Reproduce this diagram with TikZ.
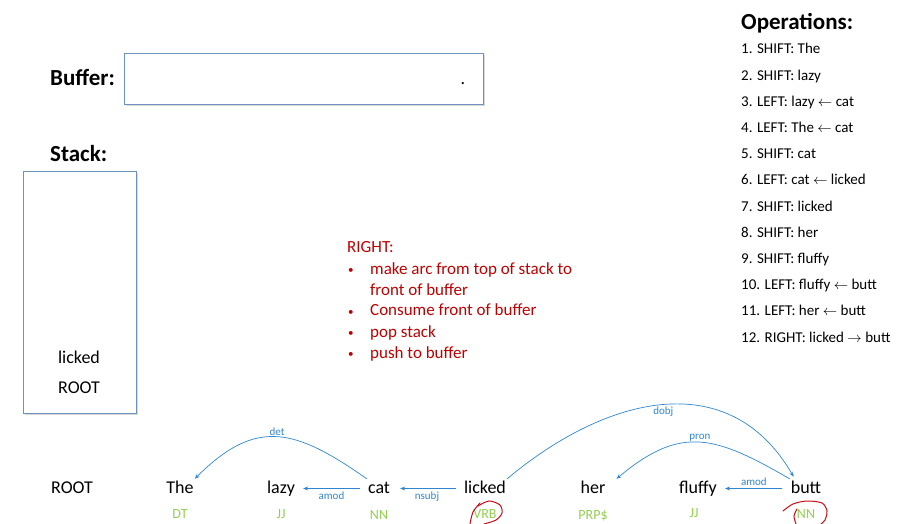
\documentclass[tikz,border=0pt]{standalone}
\usepackage{fontspec}
\setmainfont{Carlito}
\usetikzlibrary{arrows.meta}
\definecolor{arcblue}{RGB}{46,134,210}
\definecolor{taggreen}{RGB}{146,208,80}
\definecolor{opred}{RGB}{192,0,0}
\definecolor{boxline}{RGB}{110,145,190}
\definecolor{inkred}{RGB}{200,10,20}

\tikzset{
  word/.style={anchor=base, inner sep=1pt, text height=13pt, text depth=4pt, font=\fontsize{18}{20}\selectfont},
  tag/.style={anchor=base, inner sep=0pt, text=taggreen, font=\fontsize{14}{16}\selectfont},
  dep/.style={draw=arcblue, line width=0.7pt, -{Stealth[length=5pt,width=4pt]}},
  deplabel/.style={text=arcblue, font=\fontsize{11}{12}\selectfont, inner sep=1pt},
  box/.style={draw=boxline, line width=0.8pt, fill=white},
  heading/.style={anchor=base west, inner sep=0pt, font=\fontsize{23}{26}\selectfont\bfseries},
  opitem/.style={anchor=base west, inner sep=0pt, font=\fontsize{15}{17}\selectfont},
  redtext/.style={anchor=base west, inner sep=0pt, text=opred, font=\fontsize{17}{19}\selectfont},
  redbullet/.style={anchor=base west, inner sep=0pt, text=opred, font=\fontsize{11}{12}\selectfont},
  ink/.style={draw=inkred, line width=1pt, line cap=round}
}

\begin{document}
\begin{tikzpicture}[x=1pt, y=-1pt]
\useasboundingbox (0,0) rectangle (914,524);

% buffer and stack
\node[heading] (bufferlabel) at (50,86) {Buffer:};
\draw[gray!30, line width=1.2pt] (126,105) -- (484,105) -- (484,55);
\node[box, minimum width=359pt, minimum height=51pt] (buffer) at (303.5,78.5) {};
\node[word, inner sep=0pt] (dot) at (463,85) {.};
\node[heading] (stacklabel) at (50,162) {Stack:};
\draw[gray!30, line width=1.2pt] (25,414) -- (137,414) -- (137,173);
\node[box, minimum width=113pt, minimum height=242pt] (stack) at (79.5,292) {};
\node[word] (stack1) at (79,363) {licked};
\node[word] (stack2) at (79,393) {ROOT};

% operations
\node[heading] (ops) at (741,30) {Operations:};
\node[opitem] (op1) at (741,54) {1. SHIFT: The};
\node[opitem] (op2) at (741,80.2) {2. SHIFT: lazy};
\node[opitem] (op3) at (741,106.4) {3. LEFT: lazy $\leftarrow$ cat};
\node[opitem] (op4) at (741,132.6) {4. LEFT: The $\leftarrow$ cat};
\node[opitem] (op5) at (741,158.8) {5. SHIFT: cat};
\node[opitem] (op6) at (741,185) {6. LEFT: cat $\leftarrow$ licked};
\node[opitem] (op7) at (741,211.2) {7. SHIFT: licked};
\node[opitem] (op8) at (741,237.4) {8. SHIFT: her};
\node[opitem] (op9) at (741,263.6) {9. SHIFT: fluffy};
\node[opitem] (op10) at (741,289.8) {10. LEFT: fluffy $\leftarrow$ butt};
\node[opitem] (op11) at (741,316) {11. LEFT: her $\leftarrow$ butt};
\node[opitem] (op12) at (741,342.2) {12. RIGHT: licked $\rightarrow$ butt};

% the RIGHT rule
\node[redtext] (right) at (347,252) {RIGHT:};
\node[redbullet] (bul1) at (348,273) {\textbullet};
\node[redtext] (rule1) at (370,274) {make arc from top of stack to};
\node[redtext] (rule1b) at (370,295) {front of buffer};
\node[redbullet] (bul2) at (348,315) {\textbullet};
\node[redtext] (rule2) at (370,316) {Consume front of buffer};
\node[redbullet] (bul3) at (348,336) {\textbullet};
\node[redtext] (rule3) at (370,337) {pop stack};
\node[redbullet] (bul4) at (348,357) {\textbullet};
\node[redtext] (rule4) at (370,358) {push to buffer};

% sentence
\node[word] (root) at (72,493) {ROOT};
\node[word] (the) at (180,493) {The};
\node[word] (lazy) at (281,493) {lazy};
\node[word] (cat) at (379,493) {cat};
\node[word] (licked) at (485,493) {licked};
\node[word] (her) at (593,493) {her};
\node[word] (fluffy) at (698,493) {fluffy};
\node[word] (butt) at (806,493) {butt};

\node[tag] (tthe) at (180,518) {DT};
\node[tag] (tlazy) at (281,518) {JJ};
\node[tag] (tcat) at (379,519) {NN};
\node[tag] (tlicked) at (485,518) {VRB};
\node[tag] (ther) at (593,519) {PRP\$};
\node[tag] (tfluffy) at (694,517) {JJ};
\node[tag] (tbutt) at (806,518) {NN};

% arcs
\path (cat.north west) edge[dep, out=145, in=45, looseness=1.3] node[deplabel, above] {det} (the.north east);
\path (cat) edge[dep, shorten <=7pt, shorten >=7pt] node[deplabel, below=2pt] {amod} (lazy);
\path (licked) edge[dep, shorten <=7pt, shorten >=9pt] node[deplabel, below=2pt] {nsubj} (cat);
\path (licked.north east) edge[dep, out=40, in=120, looseness=1.15] node[deplabel, below=1pt] {dobj} ([xshift=4pt,yshift=2pt]butt.north west);
\path (butt.north west) edge[dep, out=150, in=40, looseness=1.26] node[deplabel, above] {pron} ([xshift=10pt]her.north east);
\path (butt) edge[dep, shorten <=8pt, shorten >=7pt] node[deplabel, above=2pt] {amod} (fluffy);

% red pen marks
\draw[ink] plot[smooth] coordinates {(478,506) (489,501) (500,505) (502,513) (496,520) (484,524)};
\draw[ink] plot[smooth] coordinates {(480,503) (473,512) (470,524)};
\draw[ink] plot[smooth] coordinates {(783,511) (793,504) (807,501) (822,503) (827,511) (825,520) (821,524)};
\draw[ink] plot[smooth] coordinates {(797,509) (794,516) (796,524)};
\end{tikzpicture}
\end{document}
